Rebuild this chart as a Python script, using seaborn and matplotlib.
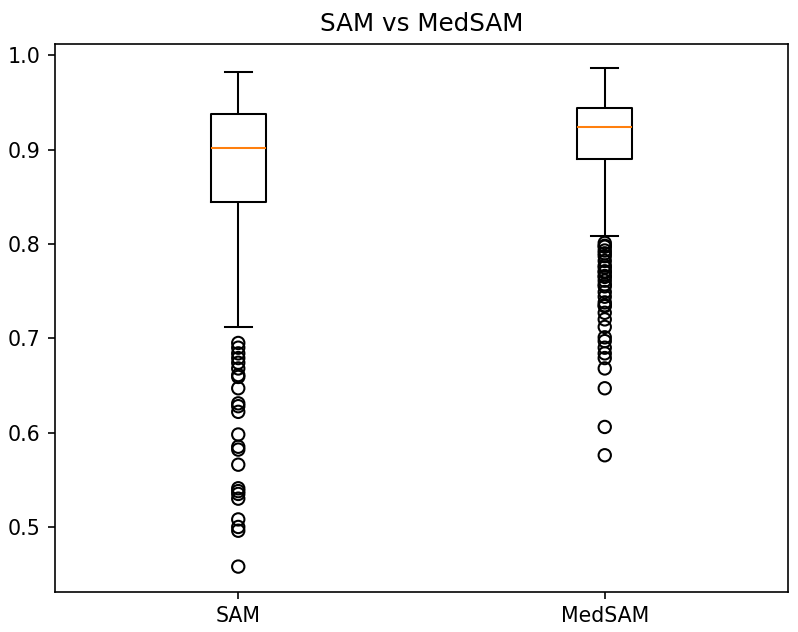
import pandas as pd
import seaborn as sns
import matplotlib
matplotlib.use("Agg")
import matplotlib.pyplot as plt

# box summary (whisker ends, quartiles, median)
models = ["SAM", "MedSAM"]
whisker_low = [0.712, 0.8085]
q1 = [0.8444, 0.8897]
median = [0.9014, 0.9234]
q3 = [0.938, 0.9443]
whisker_high = [0.982, 0.986]

# outlier points
sam_outliers = [0.695, 0.690, 0.684, 0.679, 0.674, 0.668, 0.661, 0.659, 0.647,
                0.631, 0.628, 0.622, 0.598, 0.585, 0.582, 0.566, 0.541, 0.538,
                0.535, 0.530, 0.508, 0.500, 0.496, 0.458]
medsam_outliers = [0.801, 0.798, 0.797, 0.793, 0.790, 0.787, 0.782, 0.777, 0.775,
                   0.771, 0.770, 0.766, 0.765, 0.761, 0.757, 0.755, 0.749, 0.744,
                   0.738, 0.735, 0.734, 0.727, 0.720, 0.712, 0.701, 0.697, 0.690,
                   0.684, 0.679, 0.668, 0.647, 0.606, 0.576]

# long-form tables
rows = []
for i, m in enumerate(models):
    for v in [whisker_low[i], q1[i], median[i], q3[i], whisker_high[i]]:
        rows.append({"model": m, "score": v})
df_box = pd.DataFrame(rows)

df_out = pd.DataFrame({
    "model": ["SAM"] * len(sam_outliers) + ["MedSAM"] * len(medsam_outliers),
    "score": sam_outliers + medsam_outliers,
})

dpi = 148
fig = plt.figure(figsize=(799 / dpi, 632 / dpi), dpi=dpi)
ax = fig.add_axes([55 / 799, 1 - 591.5 / 632, (788 - 55) / 799, (591.5 - 43.5) / 632])

sns.boxplot(data=df_box, x="model", y="score", order=models, width=0.15,
            fill=False, color="black", linewidth=1, whis=1.5, showfliers=False,
            medianprops={"color": "#ff7f0e"}, ax=ax)
sns.stripplot(data=df_out, x="model", y="score", order=models, jitter=False,
              size=6, linewidth=1, edgecolor="black", color="black", ax=ax)
for coll in ax.collections:
    coll.set_facecolor("none")

ax.set_xlim(-0.5, 1.5)
ax.set_xlabel("")
ax.set_ylabel("")
ax.set_title("SAM vs MedSAM")

fig.savefig("out.png", dpi=dpi)
